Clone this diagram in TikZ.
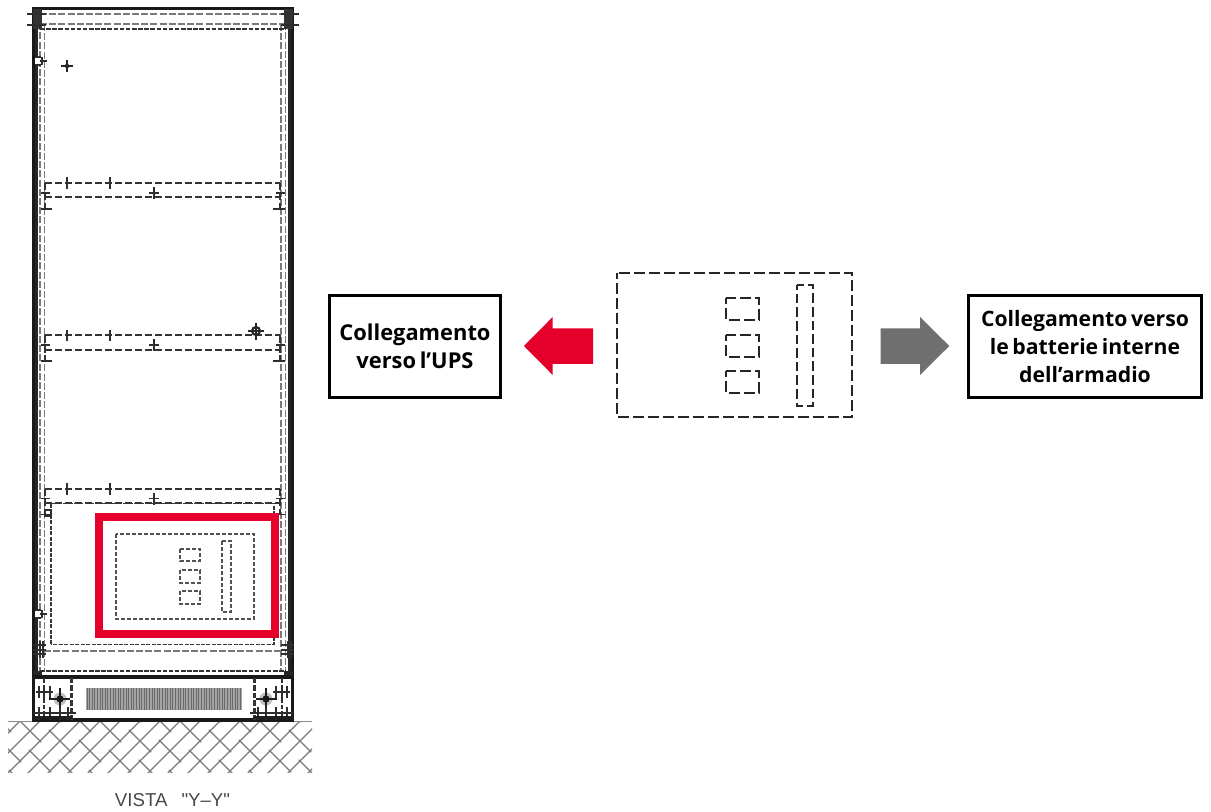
\documentclass[tikz,border=0pt]{standalone}
\usepackage{fontspec}
\setmainfont[WordSpace=0.65]{Open Sans}
\newfontfamily\drawfont{Liberation Sans}
\definecolor{upsred}{HTML}{E4002B}
\definecolor{arrowgray}{HTML}{6F6F6F}
\tikzset{
  solidline/.style={line width=1.8pt,color=black!85},
  thickline/.style={line width=2.5pt,color=black!90},
  greydash/.style={line width=1.3pt,color=black!52,dash pattern=on 5.2pt off 1.7pt},
  shelfdash/.style={line width=1.5pt,color=black!80,dash pattern=on 5.5pt off 2pt},
  paneldash/.style={line width=1.3pt,color=black!78,dash pattern=on 3pt off 1.1pt},
  finedash/.style={line width=1.05pt,color=black!68,dash pattern=on 3.2pt off 1.3pt},
  bigdash/.style={line width=1.6pt,color=black!85,dash pattern=on 8.25pt off 3pt,dash phase=4.1pt},
  tick/.style={line width=1.2pt,color=black!82},
  hatchline/.style={line width=.9pt,color=black!52},
  callbox/.style={draw=black,line width=1.9pt,fill=white,align=center,inner sep=0pt,
    font=\fontsize{16.4pt}{21pt}\selectfont\bfseries},
}
\newcommand{\shelfunit}[1]{%
  \begin{scope}[shift={(0,#1)}]
    \draw[shelfdash] (45,0) -- (280,0);
    \draw[shelfdash] (45,14.5) -- (280,14.5);
    \draw[shelfdash] (45,0) -- (45,26);
    \draw[shelfdash] (280,0) -- (280,26);
    \foreach \tx in {67,110} \draw[tick] (\tx,-5.5) -- (\tx,6);
    \draw[tick] (149,10) -- (159,10) (154,4) -- (154,16);
    \draw[tick] (41,10) -- (50,10) (41,26) -- (52,26);
    \draw[tick] (276,10) -- (285,10) (273,26) -- (285,26);
  \end{scope}}
\newcommand{\footunit}{%
  \draw[shelfdash,line width=1.5pt,dash pattern=on 3.4pt off 1.6pt] (44,678) -- (44,718);
  \draw[shelfdash,line width=1.8pt,dash pattern=on 4pt off 1.6pt] (71.5,678) -- (71.5,720);
  \draw[tick] (36,692) -- (53,692);
  \foreach \tx in {39,44,50} \draw[tick] (\tx,686) -- (\tx,698);
  \fill[black!25] (60,699) circle (6.5);
  \draw[line width=1.4pt,black!88] (49,699) -- (70,699) (60,688) -- (60,712);
  \fill[black!90] (60,699) circle (3.6);
  \draw[tick,line width=1.3pt] (33,713) -- (76,713);
  \foreach \tx in {39,50,60,68} \draw[tick] (\tx,707) -- (\tx,720);
  \draw[line width=2pt,black!88] (33,717.5) -- (72,717.5);
}
\begin{document}
\begin{tikzpicture}[x=.75pt,y=-.75pt]
\useasboundingbox (0,0) rectangle (1211,812);

% ground hatch
\begin{scope}
  \clip (8,721) rectangle (312,772);
  \begin{scope}[shift={(110,731)},rotate=45]
    \foreach \k in {-17,...,17} {
      \draw[hatchline] (-340,{\k*14.14}) -- (340,{\k*14.14});
    }
    \foreach \b in {-24,...,24} {
      \foreach \m in {-6,...,6} {
        \pgfmathsetmacro{\ac}{4*\m+2*mod(abs(\b),2)}
        \draw[hatchline] ({\b*14.14},{(\ac-1.12)*14.14}) -- ({\b*14.14},{(\ac+1.12)*14.14});
      }
    }
  \end{scope}
\end{scope}
\draw[line width=.7pt,black!45] (8,721) -- (312,721);

% cabinet outline
\draw[thickline,line width=2.6pt] (33.5,720) -- (33.5,8.5) -- (292.5,8.5) -- (292.5,720);
\draw[solidline] (36.5,9) -- (36.5,677);
\draw[solidline] (289.5,9) -- (289.5,677);
\draw[greydash] (40,14) -- (40,671);
\draw[greydash] (44.5,24) -- (44.5,671);
\draw[greydash] (281,24) -- (281,671);
\draw[greydash] (285.5,14) -- (285.5,671);
\draw[greydash] (40,14) -- (285.5,14);
\draw[greydash] (40,24) -- (285.5,24);
\draw[shelfdash,dash pattern=on 3.4pt off 1.2pt] (40,29) -- (285.5,29);
% top corners
\fill[black!80] (33,9) rectangle (42,29);
\fill[black!80] (284,9) rectangle (293,29);
\draw[tick] (27,14) -- (46,14) (27,25) -- (46,25);
\draw[tick] (281,14) -- (299,14) (281,25) -- (299,25);
% hinges
\foreach \hy in {61,614} {
  \fill[white] (35,{\hy-3}) rectangle (41,{\hy+3});
  \draw[tick] (41,{\hy-4}) -- (36,{\hy-4}) (41,{\hy+4}) -- (36,{\hy+4});
  \draw[tick] (40,\hy) -- (47,\hy) (42,{\hy-4}) -- (42,{\hy+4});
}
% crosses
\draw[line width=1.5pt,black!85] (61,66) -- (73,66) (67,60) -- (67,72);
\fill[black!85] (67,66) circle (2.2);
\shelfunit{183}
\shelfunit{335.3}
\shelfunit{488.7}
\draw[line width=1.4pt,black!85] (248,331) -- (264,331) (256,323) -- (256,340);
\draw[line width=1.6pt,black!85] (256,331) circle (4);
% lower panel
\draw[paneldash] (51,644.5) -- (51,503.5) -- (274,503.5) -- (274,644.5) -- cycle;
\draw[tick] (45,510) rectangle (51,516);
% bottom rails
\draw[greydash] (44,651) -- (283,651);
\draw[shelfdash,dash pattern=on 3.4pt off 1.2pt] (40,671) -- (285.5,671);
\foreach \bx in {0,248} {
  \begin{scope}[shift={(\bx,0)}]
    \draw[tick,line width=1.5pt] (33,645) -- (46,645) (33,650) -- (46,650) (33,654) -- (46,654);
    \draw[tick,line width=1.5pt] (40,641) -- (40,658) (43,641) -- (43,658);
  \end{scope}
}
\fill[black!85] (33,671) rectangle (42,677);
\fill[black!85] (284,671) rectangle (293,677);
\draw[thickline,line width=2.8pt] (33,677) -- (293,677);
\draw[thickline] (33.5,677) -- (33.5,720) -- (292.5,720) -- (292.5,677);
% base feet
\footunit
\begin{scope}[shift={(326,0)},xscale=-1]
  \footunit
\end{scope}
% grille
\fill[black!36] (86,688) rectangle (242,710);
\foreach \gx in {87,89.6,...,242} \draw[black!58,line width=.75pt] (\gx,688) -- (\gx,710);

% red frame and inner small plan
\draw[upsred,line width=6pt] (99,517) rectangle (275,634);
\draw[finedash] (116,534) rectangle (254,619);
\draw[finedash] (180,549) rectangle (200,561);
\draw[finedash] (180,570) rectangle (200,583);
\draw[finedash] (180,591) rectangle (200,604);
\draw[finedash] (222,541) rectangle (231,612);

% VISTA label
\node[anchor=base,inner sep=0pt,text=black!72,font=\drawfont\fontsize{14pt}{16pt}\selectfont] (vista) at (172.5,806) {VISTA\hspace{.75em}"Y–Y"};

% enlarged plan
\draw[bigdash] (617,273) rectangle (852,417);
\draw[bigdash] (726,298) rectangle (759,320);
\draw[bigdash] (726,335) rectangle (759,357);
\draw[bigdash] (726,371) rectangle (759,393);
\draw[bigdash,dash pattern=on 7.2pt off 3pt,dash phase=3.6pt] (797,285) rectangle (813,406);

% block arrows
\fill[upsred] (524,346) -- (552.7,317) -- (552.7,328.3) -- (593,328.3) -- (593,364) -- (552.7,364) -- (552.7,375) -- cycle;
\fill[arrowgray] (949.3,346) -- (920,317) -- (920,328.3) -- (880.7,328.3) -- (880.7,364) -- (920,364) -- (920,375) -- cycle;

% callouts
\node[callbox,minimum width=170.5pt*.75,minimum height=102.5pt*.75] (ups) at (415,346.5) {Collegamento\\verso l’UPS};
\node[callbox,minimum width=233.5pt*.75,minimum height=102.5pt*.75,font=\fontsize{15.9pt}{21pt}\selectfont\bfseries] (batt) at (1085,346.5) {Collegamento verso\\le batterie interne\\dell’armadio};
\end{tikzpicture}
\end{document}
